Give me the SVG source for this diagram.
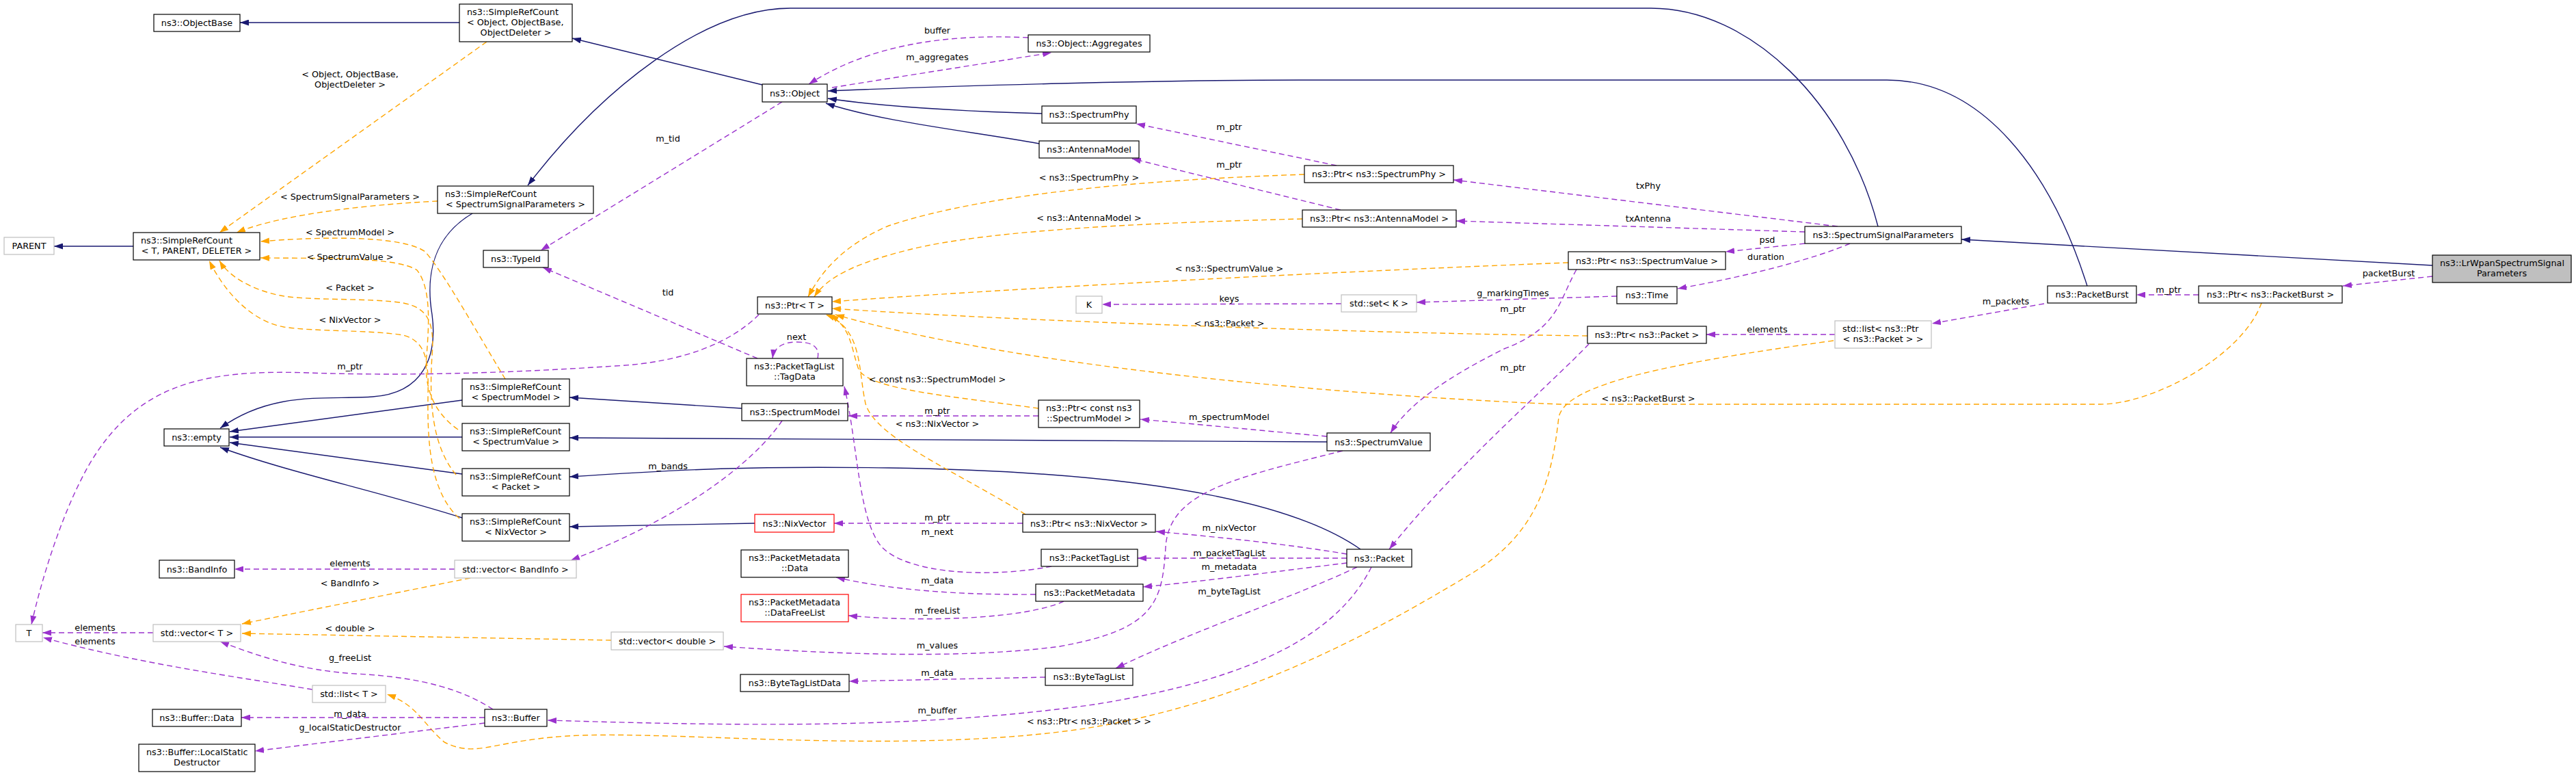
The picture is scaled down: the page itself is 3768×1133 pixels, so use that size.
<svg xmlns="http://www.w3.org/2000/svg" width="3768" height="1133" viewBox="0 0 3768 1133">
<style>
.node rect{fill:#ffffff;stroke:#000000;stroke-width:1.2}
.node.g rect{stroke:#bfbfbf}
.node.r rect{stroke:#ff0000}
.node.f rect{fill:#bfbfbf}
text{font-family:"DejaVu Sans","Liberation Sans",sans-serif;font-size:12.8px;fill:#000000}
.node text{text-anchor:middle}
.node text.l{text-anchor:start}
.lbl text{text-anchor:middle}
.inh{fill:none;stroke:#191970;stroke-width:1.4;marker-end:url(#ab)}
.mem{fill:none;stroke:#9a32cd;stroke-width:1.4;stroke-dasharray:8,5;marker-end:url(#ap)}
.tpl{fill:none;stroke:#ffa500;stroke-width:1.4;stroke-dasharray:8,5;marker-end:url(#ao)}
</style>
<defs>
<marker id="ab" viewBox="0 0 13 9" refX="13" refY="4.5" markerWidth="13" markerHeight="9" orient="auto" markerUnits="userSpaceOnUse"><path d="M0,0 L13,4.5 L0,9 z" fill="#191970" stroke="none"/></marker>
<marker id="ap" viewBox="0 0 13 9" refX="13" refY="4.5" markerWidth="13" markerHeight="9" orient="auto" markerUnits="userSpaceOnUse"><path d="M0,0 L13,4.5 L0,9 z" fill="#9a32cd" stroke="none"/></marker>
<marker id="ao" viewBox="0 0 13 9" refX="13" refY="4.5" markerWidth="13" markerHeight="9" orient="auto" markerUnits="userSpaceOnUse"><path d="M0,0 L13,4.5 L0,9 z" fill="#ffa500" stroke="none"/></marker>
</defs>
<rect x="0" y="0" width="3768" height="1133" fill="#ffffff"/>
<g id="connectors">
<path class="inh" d="M672,33 L351,33"/>
<path class="inh" d="M1115,124 L837,56"/>
<path class="inh" d="M2747,331 C2700,150 2560,12 2415,12 L1156,12 C1030,12 880,130 772,271"/>
<path class="inh" d="M1524,166 C1420,163 1300,157 1211,144"/>
<path class="inh" d="M1520,210 C1420,192 1290,178 1208,151"/>
<path class="inh" d="M3053,418 C3000,250 2900,117 2760,117 L1900,117 C1700,117 1400,125 1211,133"/>
<path class="inh" d="M3558,388 L2869,350"/>
<path class="inh" d="M691,312 C635,345 622,400 632,460 C640,520 620,575 545,580 C480,585 400,570 322,626"/>
<path class="inh" d="M676,585 L336,631"/>
<path class="inh" d="M676,639 L336,639"/>
<path class="inh" d="M676,693 L336,647"/>
<path class="inh" d="M676,757 C560,720 420,690 322,654"/>
<path class="inh" d="M1085,597 L833,581"/>
<path class="inh" d="M1941,646 L833,640"/>
<path class="inh" d="M1990,803 C1900,740 1700,690 1300,684 C1100,681 1000,686 833,697"/>
<path class="inh" d="M1104,765 L833,770"/>
<path class="inh" d="M195,360 L79,360"/>
<path class="tpl" d="M712,61 L321,340"/>
<path class="tpl" d="M640,294 C560,298 420,310 346,340"/>
<path class="tpl" d="M739,554 C700,490 650,400 622,368 C590,345 480,345 381,353"/>
<path class="tpl" d="M670,628 C630,600 620,560 624,520 C628,470 630,420 610,395 C580,375 470,378 381,377"/>
<path class="tpl" d="M667,694 C630,650 628,580 632,520 C636,470 625,450 590,443 C540,435 450,440 410,432 C370,424 335,405 321,381"/>
<path class="tpl" d="M672,758 C630,720 625,650 626,580 C627,530 625,500 590,490 C540,482 460,485 415,478 C370,470 330,430 306,381"/>
<path class="tpl" d="M1908,255 C1700,262 1450,280 1300,330 C1230,360 1200,400 1182,434"/>
<path class="tpl" d="M1905,320 C1700,325 1450,335 1330,365 C1250,385 1210,405 1191,434"/>
<path class="tpl" d="M2294,384 C2000,395 1500,420 1217,441"/>
<path class="tpl" d="M2322,491 C2000,487 1500,470 1217,451"/>
<path class="tpl" d="M3308,443 C3280,520 3150,591 3072,591 L2282,591 C2000,580 1500,540 1222,460"/>
<path class="tpl" d="M1519,597 C1400,580 1270,570 1256,540 C1245,510 1246,480 1214,460"/>
<path class="tpl" d="M1500,752 C1400,690 1280,640 1266,590 C1255,540 1262,480 1208,460"/>
<path class="tpl" d="M688,845 L354,912"/>
<path class="tpl" d="M894,936 L354,926"/>
<path class="tpl" d="M2682,498 C2450,530 2290,560 2280,610 C2270,700 2250,780 2150,840 C2000,930 1800,1040 1550,1070 C1300,1100 1000,1070 850,1075 C720,1080 700,1110 650,1085 C620,1060 610,1030 566,1015"/>
<path class="mem" d="M1504,55 C1400,50 1280,60 1183,123"/>
<path class="mem" d="M1217,128 L1538,77"/>
<path class="mem" d="M1144,149 L791,366"/>
<path class="mem" d="M1108,524 L794,391"/>
<path class="mem" d="M1110,460 C1070,500 1000,530 900,535 C750,545 600,550 450,545 C300,540 200,560 130,680 C90,750 60,850 46,913"/>
<path class="mem" d="M1196,524 C1200,505 1185,500 1165,500 C1145,500 1132,508 1130,524"/>
<path class="mem" d="M1538,828 C1450,845 1330,840 1290,800 C1255,760 1255,650 1235,565"/>
<path class="mem" d="M1519,608 L1241,608"/>
<path class="mem" d="M1144,615 C1100,680 990,760 835,819"/>
<path class="mem" d="M665,832 L343,832"/>
<path class="mem" d="M1941,638 C1850,630 1750,620 1668,613"/>
<path class="mem" d="M2306,394 C2280,440 2280,480 2200,510 C2120,550 2060,590 2034,633"/>
<path class="mem" d="M2365,433 L2072,442"/>
<path class="mem" d="M1962,444 L1612,445"/>
<path class="mem" d="M2706,356 C2650,380 2550,405 2454,422"/>
<path class="mem" d="M2640,356 L2524,368"/>
<path class="mem" d="M2688,331 L2126,263"/>
<path class="mem" d="M2640,339 L2130,323"/>
<path class="mem" d="M1955,242 L1662,181"/>
<path class="mem" d="M1961,307 L1656,232"/>
<path class="mem" d="M2684,489 L2496,489"/>
<path class="mem" d="M2990,444 L2826,473"/>
<path class="mem" d="M3216,431 L3125,431"/>
<path class="mem" d="M3558,404 L3427,418"/>
<path class="mem" d="M2324,503 C2270,560 2130,680 2032,803"/>
<path class="mem" d="M1970,810 C1880,795 1780,785 1691,777"/>
<path class="mem" d="M1970,816 L1664,816"/>
<path class="mem" d="M1970,823 C1870,835 1760,850 1672,858"/>
<path class="mem" d="M1985,829 C1900,870 1750,920 1632,977"/>
<path class="mem" d="M2006,829 C1960,920 1850,990 1600,1030 C1350,1065 1100,1062 801,1053"/>
<path class="mem" d="M1496,765 L1220,765"/>
<path class="mem" d="M1515,869 C1400,870 1300,862 1223,844"/>
<path class="mem" d="M1556,879 C1500,905 1350,910 1241,900"/>
<path class="mem" d="M1964,659 C1800,700 1710,720 1705,800 C1700,880 1690,920 1550,945 C1400,965 1200,955 1059,945"/>
<path class="mem" d="M1529,990 L1242,996"/>
<path class="mem" d="M709,1049 L353,1049"/>
<path class="mem" d="M709,1057 L373,1098"/>
<path class="mem" d="M721,1037 C680,1010 620,990 520,985 C440,980 380,960 322,938"/>
<path class="mem" d="M224,925 L62,925"/>
<path class="mem" d="M457,1008 C350,990 200,970 63,932"/>
</g>
<g id="labels" class="lbl">
<text x="512" y="112.5">&lt; Object, ObjectBase,</text>
<text x="512" y="127.5">ObjectDeleter &gt;</text>
<text x="512" y="291.5">&lt; SpectrumSignalParameters &gt;</text>
<text x="512" y="343.5">&lt; SpectrumModel &gt;</text>
<text x="512" y="379.5">&lt; SpectrumValue &gt;</text>
<text x="512" y="424.5">&lt; Packet &gt;</text>
<text x="512" y="471.5">&lt; NixVector &gt;</text>
<text x="512" y="539.5">m_ptr</text>
<text x="512" y="827.5">elements</text>
<text x="512" y="856.5">&lt; BandInfo &gt;</text>
<text x="139" y="921.5">elements</text>
<text x="139" y="941.5">elements</text>
<text x="512" y="922.5">&lt; double &gt;</text>
<text x="512" y="965.5">g_freeList</text>
<text x="512" y="1047.5">m_data</text>
<text x="512" y="1067.5">g_localStaticDestructor</text>
<text x="1371" y="48.5">buffer</text>
<text x="1371" y="87.5">m_aggregates</text>
<text x="977" y="206.5">m_tid</text>
<text x="977" y="431.5">tid</text>
<text x="977" y="685.5">m_bands</text>
<text x="1798" y="189.5">m_ptr</text>
<text x="1798" y="244.5">m_ptr</text>
<text x="1593" y="263.5">&lt; ns3::SpectrumPhy &gt;</text>
<text x="1593" y="322.5">&lt; ns3::AntennaModel &gt;</text>
<text x="2411" y="275.5">txPhy</text>
<text x="2411" y="323.5">txAntenna</text>
<text x="2585" y="354.5">psd</text>
<text x="2583" y="379.5">duration</text>
<text x="1798" y="396.5">&lt; ns3::SpectrumValue &gt;</text>
<text x="1798" y="440.5">keys</text>
<text x="1798" y="476.5">&lt; ns3::Packet &gt;</text>
<text x="1165" y="496.5">next</text>
<text x="1371" y="558.5">&lt; const ns3::SpectrumModel &gt;</text>
<text x="1371" y="604.5">m_ptr</text>
<text x="1371" y="623.5">&lt; ns3::NixVector &gt;</text>
<text x="1798" y="613.5">m_spectrumModel</text>
<text x="2213" y="432.5">g_markingTimes</text>
<text x="2213" y="455.5">m_ptr</text>
<text x="2585" y="485.5">elements</text>
<text x="2213" y="541.5">m_ptr</text>
<text x="2411" y="586.5">&lt; ns3::PacketBurst &gt;</text>
<text x="3494" y="403.5">packetBurst</text>
<text x="3172" y="427.5">m_ptr</text>
<text x="2934" y="444.5">m_packets</text>
<text x="1371" y="760.5">m_ptr</text>
<text x="1371" y="781.5">m_next</text>
<text x="1798" y="775.5">m_nixVector</text>
<text x="1798" y="812.5">m_packetTagList</text>
<text x="1798" y="832.5">m_metadata</text>
<text x="1371" y="852.5">m_data</text>
<text x="1798" y="868.5">m_byteTagList</text>
<text x="1371" y="896.5">m_freeList</text>
<text x="1371" y="947.5">m_values</text>
<text x="1371" y="987.5">m_data</text>
<text x="1371" y="1042.5">m_buffer</text>
<text x="1593" y="1058.5">&lt; ns3::Ptr&lt; ns3::Packet &gt; &gt;</text>
</g>
<g id="n_objectbase" class="node"><rect x="225" y="21" width="126" height="25"/><text x="288" y="38">ns3::ObjectBase</text></g>
<g id="n_src_object" class="node"><rect x="672" y="6" width="165" height="55"/><text class="l" x="683" y="22">ns3::SimpleRefCount</text><text class="l" x="683" y="37">&lt; Object, ObjectBase,</text><text x="754.5" y="52">ObjectDeleter &gt;</text></g>
<g id="n_src_ssp" class="node"><rect x="640" y="272" width="228" height="40"/><text class="l" x="651" y="288">ns3::SimpleRefCount</text><text x="754" y="303">&lt; SpectrumSignalParameters &gt;</text></g>
<g id="n_src_tpd" class="node"><rect x="195" y="340" width="185" height="40"/><text class="l" x="206" y="356">ns3::SimpleRefCount</text><text x="287.5" y="371">&lt; T, PARENT, DELETER &gt;</text></g>
<g id="n_parent" class="node g"><rect x="6" y="347" width="73" height="25"/><text x="42.5" y="364">PARENT</text></g>
<g id="n_typeid" class="node"><rect x="707" y="366" width="95" height="25"/><text x="754.5" y="383">ns3::TypeId</text></g>
<g id="n_empty" class="node"><rect x="240" y="627" width="95" height="25"/><text x="287.5" y="644">ns3::empty</text></g>
<g id="n_src_sm" class="node"><rect x="676" y="554" width="157" height="40"/><text class="l" x="687" y="570">ns3::SimpleRefCount</text><text x="754.5" y="585">&lt; SpectrumModel &gt;</text></g>
<g id="n_src_sv" class="node"><rect x="676" y="619" width="157" height="40"/><text class="l" x="687" y="635">ns3::SimpleRefCount</text><text x="754.5" y="650">&lt; SpectrumValue &gt;</text></g>
<g id="n_src_packet" class="node"><rect x="676" y="685" width="157" height="40"/><text class="l" x="687" y="701">ns3::SimpleRefCount</text><text x="754.5" y="716">&lt; Packet &gt;</text></g>
<g id="n_src_nix" class="node"><rect x="676" y="751" width="157" height="40"/><text class="l" x="687" y="767">ns3::SimpleRefCount</text><text x="754.5" y="782">&lt; NixVector &gt;</text></g>
<g id="n_bandinfo" class="node"><rect x="233" y="819" width="110" height="26"/><text x="288" y="837">ns3::BandInfo</text></g>
<g id="n_vec_bandinfo" class="node g"><rect x="665" y="819" width="178" height="26"/><text x="754" y="837">std::vector&lt; BandInfo &gt;</text></g>
<g id="n_t" class="node g"><rect x="23" y="913" width="39" height="25"/><text x="42.5" y="930">T</text></g>
<g id="n_vec_t" class="node g"><rect x="224" y="913" width="128" height="25"/><text x="288" y="930">std::vector&lt; T &gt;</text></g>
<g id="n_vec_double" class="node g"><rect x="894" y="924" width="164" height="26"/><text x="976" y="942">std::vector&lt; double &gt;</text></g>
<g id="n_list_t" class="node g"><rect x="457" y="1002" width="107" height="25"/><text x="510.5" y="1019">std::list&lt; T &gt;</text></g>
<g id="n_buffer_data" class="node"><rect x="223" y="1037" width="130" height="25"/><text x="288" y="1054">ns3::Buffer::Data</text></g>
<g id="n_buffer" class="node"><rect x="709" y="1037" width="91" height="25"/><text x="754.5" y="1054">ns3::Buffer</text></g>
<g id="n_lsd" class="node"><rect x="203" y="1088" width="170" height="40"/><text class="l" x="214" y="1104">ns3::Buffer::LocalStatic</text><text x="288" y="1119">Destructor</text></g>
<g id="n_object" class="node"><rect x="1115" y="123" width="95" height="26"/><text x="1162.5" y="141">ns3::Object</text></g>
<g id="n_aggregates" class="node"><rect x="1504" y="51" width="178" height="25"/><text x="1593" y="68">ns3::Object::Aggregates</text></g>
<g id="n_spectrumphy" class="node"><rect x="1524" y="155" width="138" height="25"/><text x="1593" y="172">ns3::SpectrumPhy</text></g>
<g id="n_antennamodel" class="node"><rect x="1520" y="206" width="146" height="25"/><text x="1593" y="223">ns3::AntennaModel</text></g>
<g id="n_ptr_sp" class="node"><rect x="1908" y="242" width="218" height="25"/><text x="2017" y="259">ns3::Ptr&lt; ns3::SpectrumPhy &gt;</text></g>
<g id="n_ptr_am" class="node"><rect x="1905" y="307" width="225" height="25"/><text x="2017.5" y="324">ns3::Ptr&lt; ns3::AntennaModel &gt;</text></g>
<g id="n_ssp" class="node"><rect x="2640" y="331" width="229" height="25"/><text x="2754.5" y="348">ns3::SpectrumSignalParameters</text></g>
<g id="n_ptr_sv" class="node"><rect x="2294" y="368" width="230" height="26"/><text x="2409" y="386">ns3::Ptr&lt; ns3::SpectrumValue &gt;</text></g>
<g id="n_lrwpan" class="node f"><rect x="3558" y="373" width="203" height="40"/><text class="l" x="3569" y="389">ns3::LrWpanSpectrumSignal</text><text x="3659.5" y="404">Parameters</text></g>
<g id="n_ptr_t" class="node"><rect x="1108" y="434" width="109" height="25"/><text x="1162.5" y="451">ns3::Ptr&lt; T &gt;</text></g>
<g id="n_k" class="node g"><rect x="1574" y="433" width="38" height="25"/><text x="1593" y="450">K</text></g>
<g id="n_tagdata" class="node"><rect x="1092" y="524" width="141" height="40"/><text class="l" x="1103" y="540">ns3::PacketTagList</text><text x="1162.5" y="555">::TagData</text></g>
<g id="n_spectrummodel" class="node"><rect x="1085" y="590" width="155" height="25"/><text x="1162.5" y="607">ns3::SpectrumModel</text></g>
<g id="n_ptr_const_sm" class="node"><rect x="1519" y="585" width="148" height="40"/><text class="l" x="1530" y="601">ns3::Ptr&lt; const ns3</text><text x="1593" y="616">::SpectrumModel &gt;</text></g>
<g id="n_nixvector" class="node r"><rect x="1104" y="752" width="116" height="26"/><text x="1162" y="770">ns3::NixVector</text></g>
<g id="n_ptr_nix" class="node"><rect x="1496" y="752" width="194" height="26"/><text x="1593" y="770">ns3::Ptr&lt; ns3::NixVector &gt;</text></g>
<g id="n_pm_data" class="node"><rect x="1084" y="804" width="157" height="40"/><text class="l" x="1095" y="820">ns3::PacketMetadata</text><text x="1162.5" y="835">::Data</text></g>
<g id="n_packettaglist" class="node"><rect x="1523" y="803" width="141" height="25"/><text x="1593.5" y="820">ns3::PacketTagList</text></g>
<g id="n_packetmetadata" class="node"><rect x="1515" y="854" width="157" height="25"/><text x="1593.5" y="871">ns3::PacketMetadata</text></g>
<g id="n_datafreelist" class="node r"><rect x="1084" y="869" width="157" height="40"/><text class="l" x="1095" y="885">ns3::PacketMetadata</text><text x="1162.5" y="900">::DataFreeList</text></g>
<g id="n_bytetaglistdata" class="node"><rect x="1083" y="986" width="159" height="25"/><text x="1162.5" y="1003">ns3::ByteTagListData</text></g>
<g id="n_bytetaglist" class="node"><rect x="1529" y="977" width="128" height="25"/><text x="1593" y="994">ns3::ByteTagList</text></g>
<g id="n_packet" class="node"><rect x="1970" y="803" width="95" height="26"/><text x="2017.5" y="821">ns3::Packet</text></g>
<g id="n_time" class="node"><rect x="2365" y="419" width="88" height="25"/><text x="2409" y="436">ns3::Time</text></g>
<g id="n_set_k" class="node g"><rect x="1962" y="431" width="110" height="25"/><text x="2017" y="448">std::set&lt; K &gt;</text></g>
<g id="n_ptr_packet" class="node"><rect x="2322" y="477" width="174" height="25"/><text x="2409" y="494">ns3::Ptr&lt; ns3::Packet &gt;</text></g>
<g id="n_list_ptr_packet" class="node g"><rect x="2684" y="469" width="141" height="40"/><text class="l" x="2695" y="485">std::list&lt; ns3::Ptr</text><text x="2754.5" y="500">&lt; ns3::Packet &gt; &gt;</text></g>
<g id="n_spectrumvalue" class="node"><rect x="1941" y="633" width="151" height="26"/><text x="2016.5" y="651">ns3::SpectrumValue</text></g>
<g id="n_packetburst" class="node"><rect x="2995" y="418" width="130" height="25"/><text x="3060" y="435">ns3::PacketBurst</text></g>
<g id="n_ptr_pb" class="node"><rect x="3216" y="418" width="210" height="25"/><text x="3321" y="435">ns3::Ptr&lt; ns3::PacketBurst &gt;</text></g>
</svg>
